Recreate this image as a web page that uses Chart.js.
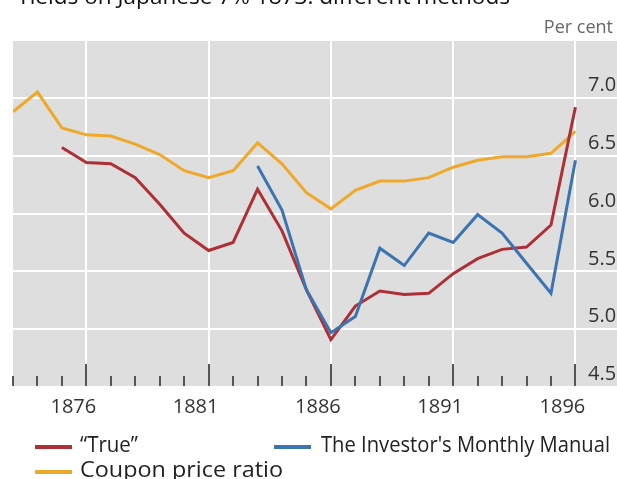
<!DOCTYPE html>
<html><head><meta charset="utf-8">
<script src="https://cdn.jsdelivr.net/npm/chart.js@4.4.0/dist/chart.umd.min.js"></script>
<style>
html,body{margin:0;padding:0;background:#fff;overflow:hidden;width:617px;height:479px;}
#wrap{position:relative;width:617px;height:479px;font-family:"Open Sans",sans-serif;overflow:hidden;}
canvas{position:absolute;left:0;top:0;}
.t{position:absolute;white-space:nowrap;transform-origin:0 50%;}
.sw{position:absolute;width:37px;height:4px;}
</style></head><body>
<div id="wrap">
<canvas id="c" width="617" height="479"></canvas>
<div class="t" data-w="493" style="left:17px;top:-16px;font-size:22px;line-height:22px;color:#111;">Yields on Japanese 7% 1873: different methods</div>
<div class="t" style="right:4px;top:17px;font-size:18px;line-height:18px;color:#666;">Per cent</div>
<div class="sw" style="left:35px;top:445px;background:#ae2f35;"></div>
<div class="t" data-w="58" style="left:80px;top:434px;font-size:21px;line-height:21px;color:#222;">“True”</div>
<div class="sw" style="left:274px;top:445px;background:#3c74b2;"></div>
<div class="t" data-w="289" style="left:321px;top:434px;font-size:21px;line-height:21px;color:#222;">The Investor's Monthly Manual</div>
<div class="sw" style="left:35px;top:470px;background:#f0a82a;"></div>
<div class="t" data-w="203" style="left:80px;top:459px;font-size:21px;line-height:21px;color:#222;">Coupon price ratio</div>
</div>
<script>
const years = [1873,1874,1875,1876,1877,1878,1879,1880,1881,1882,1883,1884,1885,1886,1887,1888,1889,1890,1891,1892,1893,1894,1895,1896];
const trueYield = [null,null,6.57,6.44,6.43,6.31,6.08,5.83,5.68,5.75,6.21,5.85,5.34,4.91,5.20,5.33,5.30,5.31,5.48,5.61,5.69,5.71,5.90,6.92];
const immYield = [null,null,null,null,null,null,null,null,null,null,6.41,6.03,5.34,4.97,5.11,5.70,5.55,5.83,5.75,5.99,5.83,5.57,5.31,6.46];
const couponRatio = [6.88,7.05,6.74,6.68,6.67,6.60,6.51,6.37,6.31,6.37,6.61,6.43,6.18,6.04,6.20,6.28,6.28,6.31,6.40,6.46,6.49,6.49,6.52,6.71];
const labelYears = [1876,1881,1886,1891,1896];
const yTicks = [4.5,5.0,5.5,6.0,6.5,7.0];

// fit text widths to the reference
document.querySelectorAll('.t[data-w]').forEach(el=>{
  const w = el.getBoundingClientRect().width;
  const target = parseFloat(el.dataset.w);
  if (w > 0) el.style.transform = 'scaleX(' + (target / w) + ')';
});

Chart.defaults.font.family = "'Open Sans', sans-serif";

const pts = arr => years.map((y,i)=>({x:y,y:arr[i]}));

const bgPlugin = {
  id:'bg',
  beforeDraw(chart){
    const {ctx, chartArea:a} = chart;
    ctx.save();
    ctx.fillStyle = '#dedede';
    ctx.fillRect(a.left, a.top, chart.width - a.left, a.bottom - a.top);
    ctx.restore();
  }
};
const tickPlugin = {
  id:'innerTicks',
  beforeDatasetsDraw(chart){
    const {ctx, chartArea:a} = chart;
    const xs = chart.scales.x;
    ctx.save();
    ctx.strokeStyle = '#555';
    ctx.lineWidth = 2;
    years.forEach(y=>{
      const px = Math.round(xs.getPixelForValue(y));
      const major = labelYears.includes(y);
      ctx.beginPath();
      ctx.moveTo(px, a.bottom - 1);
      ctx.lineTo(px, a.bottom - 1 - (major ? 22 : 10));
      ctx.stroke();
    });
    ctx.restore();
  }
};

new Chart(document.getElementById('c'), {
  type:'line',
  data:{
    datasets:[
      {label:"The Investor's Monthly Manual", data:pts(immYield), borderColor:'#3c74b2'},
      {label:'“True”', data:pts(trueYield), borderColor:'#ae2f35'},
      {label:'Coupon price ratio', data:pts(couponRatio), borderColor:'#f0a82a'}
    ]
  },
  options:{
    responsive:false,
    animation:false,
    events:[],
    elements:{line:{borderWidth:3, tension:0, borderCapStyle:'butt'}, point:{radius:0}},
    layout:{padding:{left:13, top:40, right:0, bottom:0}},
    plugins:{legend:{display:false}, tooltip:{enabled:false}, title:{display:false}},
    scales:{
      x:{
        type:'linear', min:1873, max:1896.31,
        afterFit:s=>{s.height=92;},
        border:{display:false},
        grid:{drawTicks:false, lineWidth:2, color:c=> (c.tick && labelYears.includes(c.tick.value)) ? '#ffffff' : 'rgba(0,0,0,0)'},
        ticks:{stepSize:1, autoSkip:false, maxRotation:0, includeBounds:false, padding:8, labelOffset:-13,
          color:'#333', font:{size:20},
          callback:v=> labelYears.includes(v) ? String(v) : ''}
      },
      y:{
        position:'right', min:4.5, max:7.5,
        afterFit:s=>{s.width=34;},
        border:{display:false},
        grid:{color:'#ffffff', lineWidth:2, drawTicks:true, tickLength:34, tickColor:'#ffffff', tickWidth:2},
        ticks:{stepSize:0.5, padding:-29, labelOffset:-12.5, color:'#333', font:{size:20},
          callback:v=> yTicks.includes(Math.round(v*10)/10) ? v.toFixed(1) : ''}
      }
    }
  },
  plugins:[bgPlugin, tickPlugin]
});
</script>
</body></html>
